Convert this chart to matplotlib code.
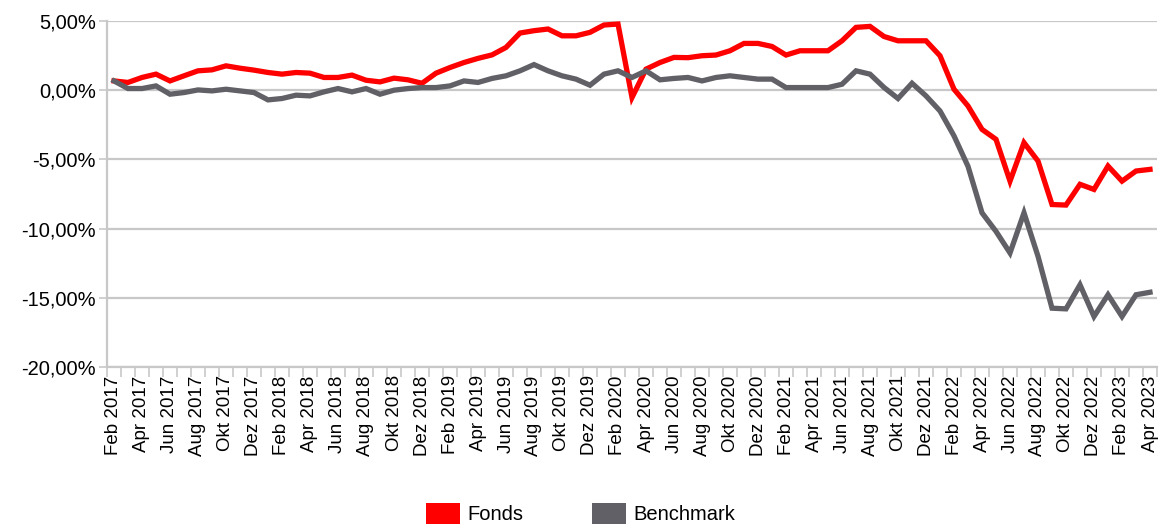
import numpy as np
import matplotlib
matplotlib.use("Agg")
import matplotlib.pyplot as plt
from matplotlib.patches import Patch
from matplotlib.ticker import FixedLocator, FuncFormatter

# ── Data (monthly, Feb 2017 .. Apr 2023, in %) ───────────────────────────────

MONTHS_DE = ["Jan", "Feb", "Mär", "Apr", "Mai", "Jun",
             "Jul", "Aug", "Sep", "Okt", "Nov", "Dez"]

fonds = [
    0.67, 0.56, 0.92, 1.16, 0.67, 1.04, 1.40, 1.47, 1.76, 1.59, 1.45,   # Feb-Dez 2017
    1.28, 1.16, 1.28, 1.23, 0.92, 0.92, 1.09, 0.72, 0.60, 0.87, 0.75, 0.50,  # 2018
    1.23, 1.64, 2.00, 2.30, 2.55, 3.09, 4.13, 4.30, 4.42, 3.93, 3.93, 4.18,  # 2019
    4.71, 4.78, -0.53, 1.52, 2.00, 2.37, 2.35, 2.49, 2.54, 2.85, 3.38, 3.38,  # 2020
    3.16, 2.54, 2.85, 2.85, 2.85, 3.57, 4.54, 4.61, 3.88, 3.57, 3.57, 3.57,  # 2021
    2.49, 0.07, -1.14, -2.83, -3.55, -6.57, -3.79, -5.12, -8.26, -8.30, -6.80, -7.17,  # 2022
    -5.48, -6.57, -5.84, -5.72,                                          # Jan-Apr 2023
]

benchmark = [
    0.67, 0.12, 0.12, 0.31, -0.29, -0.17, 0.02, -0.05, 0.07, -0.05, -0.17,
    -0.70, -0.60, -0.36, -0.41, -0.12, 0.12, -0.12, 0.12, -0.29, 0.00, 0.12, 0.19,
    0.19, 0.31, 0.67, 0.56, 0.85, 1.04, 1.40, 1.85, 1.40, 1.04, 0.80, 0.36,
    1.16, 1.40, 0.92, 1.40, 0.75, 0.85, 0.92, 0.67, 0.92, 1.04, 0.92, 0.80,
    0.80, 0.19, 0.19, 0.19, 0.19, 0.43, 1.40, 1.16, 0.20, -0.60, 0.50, -0.41,
    -1.50, -3.30, -5.50, -8.86, -10.20, -11.76, -8.86, -12.00, -15.75, -15.80, -14.06, -16.35,
    -14.78, -16.35, -14.78, -14.60,
]

START_YEAR, START_MONTH = 2017, 2   # Feb 2017
labels = []
for k in range(len(fonds)):
    m = START_MONTH - 1 + k
    labels.append(f"{MONTHS_DE[m % 12]} {START_YEAR + m // 12}")

Y_TICKS = [5, 0, -5, -10, -15, -20]

# ── Figure ───────────────────────────────────────────────────────────────────

W, H = 1159, 527
fig = plt.figure(figsize=(W / 100, H / 100), dpi=100)
plt.rcParams["font.family"] = ["Liberation Sans", "DejaVu Sans"]

ax = fig.add_axes([107 / W, 1 - 367 / H, 1050 / W, (367 - 21) / H])

x = np.arange(len(fonds))
ax.plot(x, fonds, color="#ff0000", lw=3.8, solid_joinstyle="miter", zorder=3)
ax.plot(x, benchmark, color="#606066", lw=3.8, solid_joinstyle="miter", zorder=3)

ax.set_xlim(-0.5, len(fonds) - 0.5)
ax.set_ylim(-20, 5)

grid_col = "#c8c8c8"
ax.set_yticks(Y_TICKS)
ax.yaxis.set_major_formatter(FuncFormatter(lambda v, p: f"{v:.2f}%".replace(".", ",")))
ax.grid(axis="y", color=grid_col, lw=1.6, zorder=0)

# category labels every 2nd month, tick marks between categories
ax.xaxis.set_major_locator(FixedLocator(x[::2]))
ax.set_xticklabels(labels[::2], rotation=90)
ax.xaxis.set_minor_locator(FixedLocator(np.arange(-0.5, len(fonds), 1.0)))
ax.tick_params(axis="x", which="major", length=0, pad=6, labelsize=13.5)
ax.tick_params(axis="x", which="minor", length=7, width=1.2, color=grid_col)
ax.tick_params(axis="y", which="major", length=6, width=1.2, color=grid_col,
               labelsize=14.5, pad=2)

for side in ["top", "right"]:
    ax.spines[side].set_visible(False)
for side in ["left", "bottom"]:
    ax.spines[side].set_color(grid_col)
    ax.spines[side].set_linewidth(1.6)

handles = [Patch(facecolor="#ff0000", edgecolor="none", label="Fonds"),
           Patch(facecolor="#606066", edgecolor="none", label="Benchmark")]
fig.legend(handles=handles, loc="upper center", bbox_to_anchor=(0.501, 1 - 503 / H),
           ncol=2, frameon=False, fontsize=14.5, handlelength=1.7, handleheight=1.2,
           columnspacing=3.4, handletextpad=0.35, borderpad=0, borderaxespad=0)

fig.savefig("out.png", dpi=100)
